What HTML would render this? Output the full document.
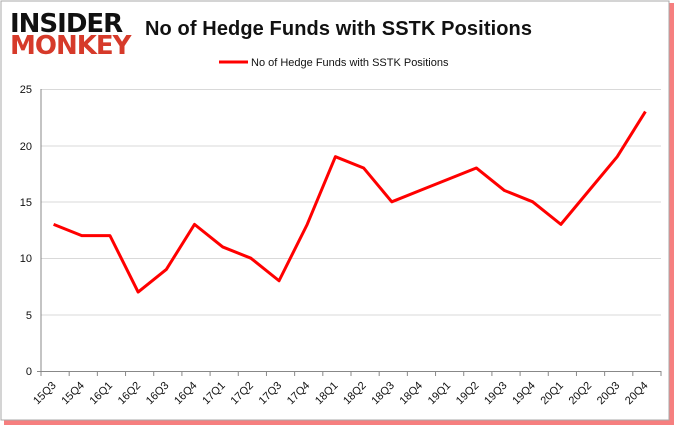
<!DOCTYPE html>
<html><head><style>
body{margin:0;width:678px;height:431px;background:#fff;overflow:hidden;font-family:"Liberation Sans",sans-serif}
</style></head><body>
<svg width="678" height="431" xmlns="http://www.w3.org/2000/svg" font-family="Liberation Sans, sans-serif">
<rect x="4" y="3" width="670" height="422" fill="#e00" opacity="0.5"/>
<rect x="1" y="1" width="668" height="419" fill="#fff" stroke="#aaa"/>
<text x="10" y="32" font-size="26" font-weight="bold" fill="#111" font-family="DejaVu Sans, sans-serif" letter-spacing="-1">INSIDER</text>
<text x="10" y="54" font-size="26" font-weight="bold" fill="#d63a2a" font-family="DejaVu Sans, sans-serif" letter-spacing="-1">MONKEY</text>
<text x="145" y="35" font-size="20" font-weight="bold" fill="#111" textLength="387">No of Hedge Funds with SSTK Positions</text>
<line x1="219" y1="62" x2="248" y2="62" stroke="#f00" stroke-width="3"/>
<text x="251" y="66" font-size="11" fill="#111">No of Hedge Funds with SSTK Positions</text>
<g stroke="#d9d9d9" stroke-width="1">
<line x1="41" y1="89.5" x2="661" y2="89.5"/><line x1="41" y1="146" x2="661" y2="146"/>
<line x1="41" y1="202" x2="661" y2="202"/><line x1="41" y1="258.5" x2="661" y2="258.5"/>
<line x1="41" y1="315" x2="661" y2="315"/>
</g>
<g stroke="#888"><line x1="41" y1="89" x2="41" y2="371"/><line x1="37" y1="371.5" x2="661" y2="371.5"/></g>
<g font-size="11" fill="#111" text-anchor="end">
<text x="32" y="93">25</text><text x="32" y="150">20</text><text x="32" y="206">15</text><text x="32" y="262">10</text><text x="32" y="319">5</text><text x="32" y="375">0</text>
</g>
<g id="t" stroke="#888"></g>
<polyline fill="none" stroke="#f00" stroke-width="3" stroke-linejoin="round" id="p"/>
<g id="l" font-size="11" fill="#111"></g>
</svg>
<script>
var d=[13,12,12,7,9,13,11,10,8,13,19,18,15,16,17,18,16,15,13,16,19,23];
var q=["15Q3","15Q4","16Q1","16Q2","16Q3","16Q4","17Q1","17Q2","17Q3","17Q4","18Q1","18Q2","18Q3","18Q4","19Q1","19Q2","19Q3","19Q4","20Q1","20Q2","20Q3","20Q4"];
var ns="http://www.w3.org/2000/svg",pts=[],w=620/22;
var t=document.getElementById('t'),l=document.getElementById('l');
for(var i=0;i<=22;i++){var x=41+i*w;var e=document.createElementNS(ns,'line');e.setAttribute('x1',x);e.setAttribute('x2',x);e.setAttribute('y1',371);e.setAttribute('y2',376);t.appendChild(e);}
d.forEach(function(v,i){var x=41+w*(i+0.5)-1.5;pts.push(x+','+(371-v*11.28));
var s=document.createElementNS(ns,'text');s.setAttribute('text-anchor','end');s.setAttribute('transform','translate('+(x+3)+',386) rotate(-45)');s.textContent=q[i];l.appendChild(s);});
document.getElementById('p').setAttribute('points',pts.join(' '));
</script>
</body></html>
